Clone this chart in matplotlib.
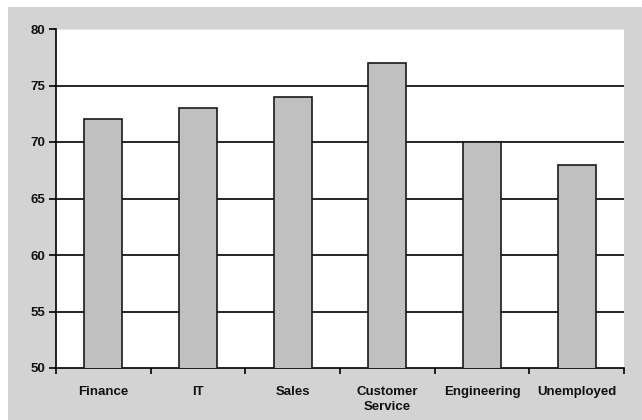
import matplotlib.pyplot as plt
from matplotlib.patches import Rectangle
import numpy as np

categories = ["Finance", "IT", "Sales", "Customer\nService", "Engineering", "Unemployed"]
values = [72, 73, 74, 77, 70, 68]
y_ticks = [50, 55, 60, 65, 70, 75, 80]

plt.rcParams['font.family'] = ['Liberation Sans', 'DejaVu Sans']

fig = plt.figure(figsize=(6.42, 4.2), dpi=100)
fig.patch.set_facecolor("white")
# gray frame behind the plot area
fig.add_artist(Rectangle((8 / 642, 0), 1, 413 / 420, transform=fig.transFigure,
                         facecolor="#d3d3d3", edgecolor="none", zorder=-5))

ax = fig.add_axes([56 / 642, 1 - 368 / 420, (624 - 56) / 642, (368 - 29) / 420])
ax.set_zorder(2)
ax.set_facecolor("white")

x = np.arange(len(categories))
ax.bar(x, values, width=0.4, color="#c0c0c0", edgecolor="#1a1a1a", linewidth=1.2, zorder=3)

# horizontal grid lines
for y in y_ticks[1:-1]:
    ax.axhline(y, color="black", linewidth=1.2, zorder=1)
ax.axhline(80, color="#e6e6e6", linewidth=1.5, zorder=1)

ax.set_xlim(-0.5, len(categories) - 0.5)
ax.set_ylim(50, 80)
ax.set_yticks(y_ticks)
ax.set_xticks(x)
ax.set_xticklabels(categories, linespacing=1.35)
ax.set_xticks(np.arange(-0.5, len(categories)), minor=True)

for s in ["top", "right"]:
    ax.spines[s].set_visible(False)
ax.spines["left"].set_linewidth(1.2)
ax.spines["bottom"].set_linewidth(1.2)

ax.tick_params(axis="x", which="major", length=0, pad=13)
ax.tick_params(axis="x", which="minor", length=4, width=1.2, direction="out")
ax.tick_params(axis="y", length=5, width=1.2, direction="out", pad=3)
for lab in ax.get_xticklabels() + ax.get_yticklabels():
    lab.set_fontweight("bold")
    lab.set_fontsize(9.5)
    lab.set_color("#111111")

plt.savefig("out.png", dpi=100)
